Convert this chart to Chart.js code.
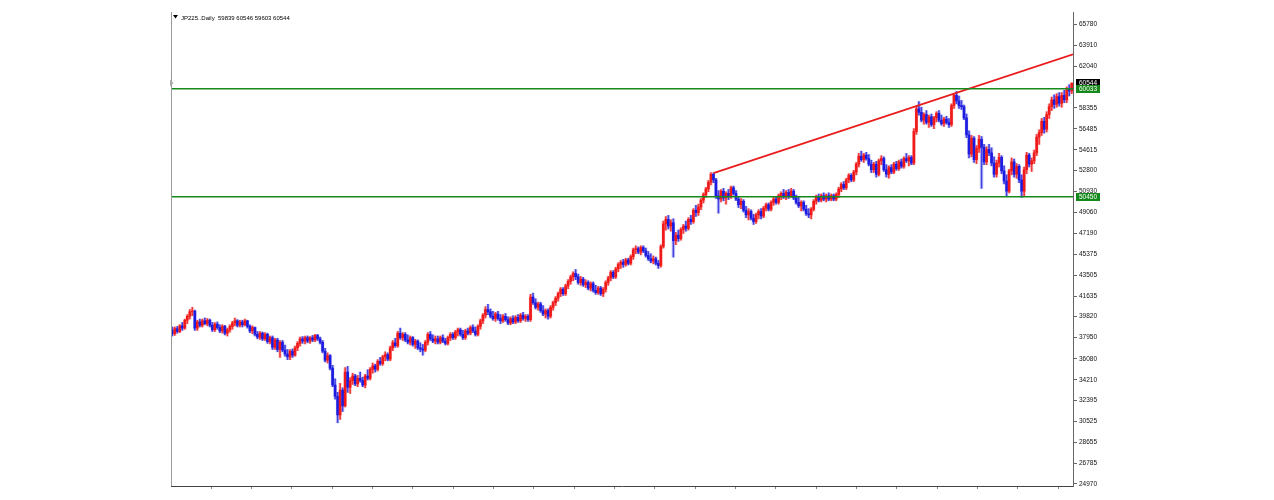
<!DOCTYPE html>
<html>
<head>
<meta charset="utf-8">
<script src="https://cdn.jsdelivr.net/npm/chart.js@4.4.1/dist/chart.umd.min.js"></script>
<style>
html, body { margin: 0; padding: 0; background: #fff; }
</style>
</head>
<body>
<canvas id="chart" width="1274" height="500"></canvas>
<script>
const symbolName = 'JP225..Daily';

// daily candles: [open, high, low, close]
const candles = [
  [38600,38900,38100,38300],[38300,38900,38150,38750],[38750,38950,38350,38500],[38500,39100,38400,39000],
  [39000,39300,38600,38800],[38800,39600,38700,39500],[39500,40000,39200,39850],[39850,40450,39600,40250],
  [40250,40650,39900,40300],[40300,40400,38600,38800],[38800,39500,38600,39350],[39350,39600,38900,39050],
  [39050,39600,38900,39450],[39450,39700,39100,39200],[39200,39650,39000,39500],[39500,39600,38900,39050],
  [39050,39300,38500,38650],[38650,39300,38500,39150],[39150,39350,38700,38850],[38850,39100,38400,38550],
  [38550,39100,38350,38950],[38950,39050,38200,38350],[38350,38800,38100,38650],[38650,39100,38450,38950],
  [38950,39400,38700,39250],[39250,39700,39000,39450],[39450,39550,38900,39050],[39050,39500,38900,39350],
  [39350,39500,38900,39100],[39100,39600,39000,39450],[39450,39500,38800,38950],[38950,39100,38400,38550],
  [38550,39000,38300,38850],[38850,38900,38100,38250],[38250,38500,37850,38000],[38000,38500,37800,38350],
  [38350,38450,37700,37850],[37850,38400,37700,38250],[38250,38350,37450,37600],[37600,38100,37400,37950],
  [37950,38100,36900,37100],[37100,37900,36900,37750],[37750,37900,36700,36900],[36900,37700,36200,37550],
  [37550,37700,36700,36850],[36850,37300,36300,36500],[36500,36900,36000,36250],[36250,36900,36000,36750],
  [36750,36950,36200,36400],[36400,37200,36300,37050],[37050,37600,36800,37450],[37450,38000,37200,37850],
  [37850,38050,37450,37650],[37650,38100,37400,37950],[37950,38100,37500,37650],[37650,38050,37450,37950],
  [37950,38150,37600,37750],[37750,38250,37600,38150],[38150,38250,37700,37850],[37850,38000,37400,37550],
  [37550,37700,36600,36750],[36750,37000,35800,35950],[35950,36600,35700,36350],[36350,36450,35100,35250],
  [35250,35500,33600,33750],[33750,34300,32500,32750],[32750,33100,30400,31100],[31100,33900,30700,33300],
  [33300,33500,31400,31900],[31900,35300,31800,34900],[34900,35400,33100,33550],[33550,34400,33000,34150],
  [34150,34800,33800,34550],[34550,34700,33700,33850],[33850,34600,33600,34350],[34350,34900,34000,34150],
  [34150,34450,33600,33750],[33750,34700,33500,34550],[34550,35100,34200,34350],[34350,35300,34200,35150],
  [35150,35700,34800,35450],[35450,35600,34900,35150],[35150,36000,35000,35850],[35850,36200,35500,35650],
  [35650,36400,35500,36250],[36250,36700,35900,36450],[36450,36600,35900,36050],[36050,37200,35900,37050],
  [37050,37700,36800,37500],[37500,37900,37100,37250],[37250,38500,37100,38350],[38350,38800,37800,37950],
  [37950,38400,37700,38250],[38250,38400,37600,37750],[37750,38200,37400,37550],[37550,38100,37300,37950],
  [37950,38050,37200,37350],[37350,37800,37000,37650],[37650,37750,36900,37050],[37050,37500,36700,36950],
  [36950,37350,36400,36850],[36850,37700,36700,37550],[37550,38400,37300,38250],[38250,38500,37700,37850],
  [37850,38200,37500,37650],[37650,38100,37400,37850],[37850,38100,37400,37550],[37550,38100,37400,37950],
  [37950,38200,37500,37650],[37650,37900,37300,37450],[37450,38100,37300,37950],[37950,38400,37700,38250],
  [38250,38400,37800,37950],[37950,38600,37800,38450],[38450,38800,38100,38650],[38650,38800,38100,38250],
  [38250,38600,37800,37950],[37950,38700,37800,38550],[38550,38800,38200,38350],[38350,39000,38200,38850],
  [38850,39100,38400,38550],[38550,38900,38100,38250],[38250,39100,38100,38950],[38950,39600,38700,39450],
  [39450,40100,39200,39950],[39950,40700,39700,40450],[40450,40900,40000,40250],[40250,40500,39700,39850],
  [39850,40300,39500,39650],[39650,40200,39400,40050],[40050,40300,39500,39650],[39650,40000,39200,39450],
  [39450,40000,39300,39850],[39850,40100,39400,39550],[39550,39800,39100,39250],[39250,39800,39100,39650],
  [39650,39900,39200,39350],[39350,39900,39200,39750],[39750,40000,39300,39450],[39450,40100,39300,39950],
  [39950,40200,39500,39650],[39650,40000,39400,39850],[39850,40000,39400,39550],[39550,41800,39400,41550],
  [41550,41900,40900,41050],[41050,41400,40500,40650],[40650,41100,40400,40950],[40950,41100,40200,40350],
  [40350,40800,39900,40050],[40050,40500,39700,40350],[40350,40500,39600,39850],[39850,40800,39700,40650],
  [40650,41200,40400,41050],[41050,41600,40800,41450],[41450,42000,41200,41850],[41850,42400,41600,42250],
  [42250,42400,41700,41850],[41850,42700,41700,42550],[42550,43100,42300,42950],[42950,43500,42700,43350],
  [43350,43800,43000,43650],[43650,44000,43100,43350],[43350,43600,42700,42850],[42850,43400,42600,43150],
  [43150,43300,42500,42650],[42650,43100,42400,42850],[42850,43000,42200,42350],[42350,42900,42100,42750],
  [42750,42900,42000,42150],[42150,42600,41800,41950],[41950,42500,41800,42350],[42350,42500,41700,41850],
  [41850,42400,41600,42250],[42250,43000,42000,42850],[42850,43400,42600,43250],[43250,43900,43000,43750],
  [43750,43900,43200,43350],[43350,44200,43200,44050],[44050,44600,43800,44450],[44450,44800,44100,44650],
  [44650,44900,44200,44450],[44450,45000,44300,44850],[44850,45000,44400,44550],[44550,45300,44400,45150],
  [45150,45900,44900,45750],[45750,46100,45400,45850],[45850,46000,45400,45550],[45550,46100,45300,45950],
  [45950,46100,45500,45650],[45650,45900,45100,45250],[45250,45600,44800,44950],[44950,45400,44600,44750],
  [44750,45200,44500,44950],[44950,45100,44400,44550],[44550,44800,44100,44350],[44350,46200,44200,46050],
  [46050,48300,45900,48050],[48050,48700,47500,48450],[48450,48800,47600,47850],[47850,48400,47400,48150],
  [48150,48500,45100,46550],[46550,47300,46200,47050],[47050,47500,46500,46750],[46750,47700,46600,47550],
  [47550,48000,47200,47850],[47850,48300,47400,47650],[47650,48600,47500,48450],[48450,48800,48000,48250],
  [48250,49400,48100,49250],[49250,49700,48700,49050],[49050,49800,48800,49550],[49550,50300,49300,50150],
  [50150,50800,49900,50650],[50650,51300,50400,51150],[51150,51900,50900,51750],[51750,52600,51500,52450],
  [52450,52560,51700,51950],[51950,52100,50300,50550],[50550,51000,49000,50250],[50250,51100,50000,50950],
  [50950,51200,50100,50350],[50350,50900,49800,50750],[50750,51100,50200,50450],[50450,51400,50300,51250],
  [51250,51400,50600,50750],[50750,51000,50100,50250],[50250,50500,49500,49750],[49750,50300,49400,50050],
  [50050,50200,49100,49250],[49250,49600,48600,48850],[48850,49400,48400,49150],[49150,49300,48400,48550],
  [48550,48900,48000,48250],[48250,49000,48100,48850],[48850,49300,48500,49150],[49150,49400,48500,48750],
  [48750,49600,48600,49450],[49450,49900,49200,49750],[49750,49900,49200,49350],[49350,50100,49200,49950],
  [49950,50400,49700,50250],[50250,50500,49800,49950],[49950,50700,49800,50550],[50550,50900,50200,50750],
  [50750,51100,50300,50450],[50450,51000,50200,50850],[50850,51100,50300,50550],[50550,51200,50400,50950],
  [50950,51100,50200,50350],[50350,50600,49800,49950],[49950,50400,49500,49650],[49650,50100,49200,49950],
  [49950,50100,49200,49350],[49350,49700,48800,48950],[48950,49400,48600,48850],[48850,49500,48500,49350],
  [49350,50200,49200,50050],[50050,50600,49800,50450],[50450,50700,50000,50150],[50150,50700,50000,50550],
  [50550,50800,50100,50250],[50250,50700,50000,50550],[50550,50800,50100,50250],[50250,50700,50100,50550],
  [50550,50700,50100,50250],[50250,50800,50100,50650],[50650,51300,50400,51150],[51150,51700,50900,51550],
  [51550,51800,51100,51250],[51250,52100,51100,51950],[51950,52500,51700,52350],[52350,52500,51800,51950],
  [51950,52800,51800,52650],[52650,53500,52400,53350],[53350,54300,53100,54050],[54050,54500,53600,53750],
  [53750,54300,53500,54150],[54150,54400,53700,53850],[53850,54200,53200,53350],[53350,53700,52600,52850],
  [52850,53500,52600,53350],[53350,53600,52200,52450],[52450,53800,52300,53650],[53650,54100,53300,53850],
  [53850,54000,52700,52850],[52850,53300,52200,52450],[52450,53200,52100,53050],[53050,53300,52500,52650],
  [52650,53500,52500,53350],[53350,53600,52800,52950],[52950,53700,52800,53550],[53550,53800,53000,53150],
  [53150,54000,53000,53850],[53850,54300,53500,53650],[53650,54100,53200,53950],[53950,54100,53300,53450],
  [53450,56500,53300,56250],[56250,58500,56000,58250],[58250,58900,57700,57950],[57950,58400,57100,57250],
  [57250,57900,56900,57750],[57750,58100,56900,57050],[57050,57700,56600,57550],[57550,57800,56700,56850],
  [56850,57600,56500,57450],[57450,58000,57100,57850],[57850,58100,57100,57250],[57250,57700,56800,56950],
  [56950,57500,56700,57350],[57350,57600,56900,57050],[57050,57400,56600,56850],[56850,58700,56700,58550],
  [58550,59600,58300,59450],[59450,59800,58700,58950],[58950,59400,58300,58550],[58550,59000,58200,58450],
  [58450,58600,57300,57450],[57450,57800,55700,55950],[55950,56300,53900,54250],[54250,55900,54000,55650],
  [55650,55800,53500,53750],[53750,55000,53400,54750],[54750,55900,54400,55550],[55550,55800,51200,54850],
  [54850,55100,53300,53550],[53550,54900,53300,54650],[54650,55100,54100,54350],[54350,54800,53200,53450],
  [53450,54000,52200,52450],[52450,53700,52200,53450],[53450,54300,53100,53950],[53950,54100,52500,52750],
  [52750,53200,51600,51850],[51850,52400,50500,50950],[50950,52900,50800,52750],[52750,53900,52400,53550],
  [53550,53800,52200,52450],[52450,53400,52100,53150],[53150,53300,51700,51950],[51950,52400,50400,50950],
  [50950,53100,50500,52850],[52850,54400,52500,54150],[54150,54300,53100,53350],[53350,53900,52700,53650],
  [53650,54600,53400,54350],[54350,56000,54100,55750],[55750,56400,55100,56150],[56150,57400,55900,57150],
  [57150,57500,56100,56450],[56450,58000,56200,57750],[57750,58700,57400,58450],[58450,59300,58100,59050],
  [59050,59500,58300,58650],[58650,59600,58400,59350],[59350,59700,58500,58750],[58750,59700,58400,59450],
  [59450,59900,58800,59050],[59050,60200,58800,59950],[59950,60400,59400,59839],[59839,60546,59603,60544]
];

const yTickValues = [65780, 63910, 62040, 58355, 56485, 54615, 52800, 50930, 49060, 47190, 45375,
  43505, 41635, 39820, 37950, 36080, 34210, 32395, 30525, 28655, 26785, 24970];

const levels = [60033, 50450];
// trend line anchors: [bar index, price]
const trendLine = [[216, 52560], [359.5, 63100]];

const bullColor = '#f01a1a';
const bearColor = '#1c1ce0';
const levelColor = '#15891a';

const lastBar = candles[candles.length - 1];
const isBull = c => c[3] >= c[0];
const colors = candles.map(c => isBull(c) ? bullColor : bearColor);
const wickColors = candles.map(c => isBull(c) ? 'rgba(240,30,30,0.85)' : 'rgba(30,30,220,0.8)');
const haloColors = candles.map(c => isBull(c) ? 'rgba(240,60,60,0.22)' : 'rgba(60,60,230,0.22)');

const overlay = {
    id: 'overlay',
    afterDraw(chart) {
        const ctx = chart.ctx;
        const area = chart.chartArea;
        const y = chart.scales.y;
        ctx.save();
        // left frame
        ctx.strokeStyle = '#9a9a9a';
        ctx.lineWidth = 1;
        ctx.beginPath();
        ctx.moveTo(area.left + 0.5, area.top);
        ctx.lineTo(area.left + 0.5, area.bottom);
        ctx.stroke();

        // header
        ctx.fillStyle = '#000';
        ctx.beginPath();
        ctx.moveTo(area.left + 2, 15);
        ctx.lineTo(area.left + 7, 15);
        ctx.lineTo(area.left + 4.5, 18.5);
        ctx.closePath();
        ctx.fill();
        ctx.font = '6px "Liberation Sans"';
        ctx.textBaseline = 'alphabetic';
        ctx.fillText(symbolName + '  ' + lastBar.join(' '), area.left + 10, 19.5);

        // left price marker
        const py = y.getPixelForValue(lastBar[3]);
        ctx.fillStyle = '#aaa';
        ctx.beginPath();
        ctx.moveTo(area.left - 1, py - 3.5);
        ctx.lineTo(area.left + 2.5, py);
        ctx.lineTo(area.left - 1, py + 3.5);
        ctx.closePath();
        ctx.fill();

        // price boxes on the right axis
        const box = (value, bg) => {
            const by = Math.round(y.getPixelForValue(value));
            ctx.fillStyle = bg;
            ctx.fillRect(area.right + 3, by - 4, 24, 8);
            ctx.fillStyle = '#fff';
            ctx.font = '6.5px "Liberation Sans"';
            ctx.textBaseline = 'middle';
            ctx.fillText(String(value), area.right + 6, by + 0.5);
        };
        box(lastBar[3], '#000');
        levels.forEach(v => box(v, levelColor));
        ctx.restore();
    }
};

new Chart(document.getElementById('chart'), {
    type: 'bar',
    data: {
        datasets: [
            ...levels.map(v => ({
                type: 'line',
                data: [{ x: -0.5, y: v }, { x: candles.length - 0.5, y: v }],
                borderColor: levelColor,
                borderWidth: 1.5,
                pointRadius: 0,
                order: 0
            })),
            {
                type: 'line',
                data: trendLine.map(p => ({ x: p[0], y: p[1] })),
                borderColor: '#ea1c1c',
                borderWidth: 1.8,
                pointRadius: 0,
                order: 0
            },
            {
                label: 'body',
                data: candles.map((c, i) => ({ x: i, y: [c[0], c[3]] })),
                backgroundColor: colors,
                barThickness: 2,
                grouped: false,
                order: 1
            },
            {
                label: 'wick',
                data: candles.map((c, i) => ({ x: i, y: [c[2], c[1]] })),
                backgroundColor: wickColors,
                barThickness: 1,
                grouped: false,
                order: 2
            },
            {
                label: 'halo',
                data: candles.map((c, i) => ({ x: i, y: [c[2], c[1]] })),
                backgroundColor: haloColors,
                barThickness: 3,
                grouped: false,
                order: 3
            }
        ]
    },
    options: {
        responsive: false,
        animation: false,
        events: [],
        layout: { padding: { left: 171, top: 12, right: 171, bottom: 0 } },
        scales: {
            x: {
                type: 'linear',
                offset: false,
                min: -0.5,
                max: candles.length - 0.5,
                afterBuildTicks: s => {
                    const t = [];
                    for (let v = 15.5; v < candles.length; v += 16.1) t.push({ value: v });
                    s.ticks = t;
                },
                afterFit: s => { s.height = 14; },
                grid: { drawOnChartArea: false, offset: false, tickLength: 3, color: '#888' },
                border: { color: '#444' },
                ticks: { display: false }
            },
            y: {
                position: 'right',
                min: 24790,
                max: 66850,
                afterBuildTicks: s => { s.ticks = yTickValues.map(v => ({ value: v })); },
                afterFit: s => { s.width = 30; },
                grid: { drawOnChartArea: false, tickLength: 4, color: '#666' },
                border: { color: '#666' },
                ticks: {
                    color: '#111',
                    padding: 2,
                    font: { family: 'Liberation Sans', size: 6.5 },
                    callback: v => String(v)
                }
            }
        },
        plugins: {
            legend: { display: false },
            tooltip: { enabled: false }
        }
    },
    plugins: [overlay]
});
</script>
</body>
</html>
